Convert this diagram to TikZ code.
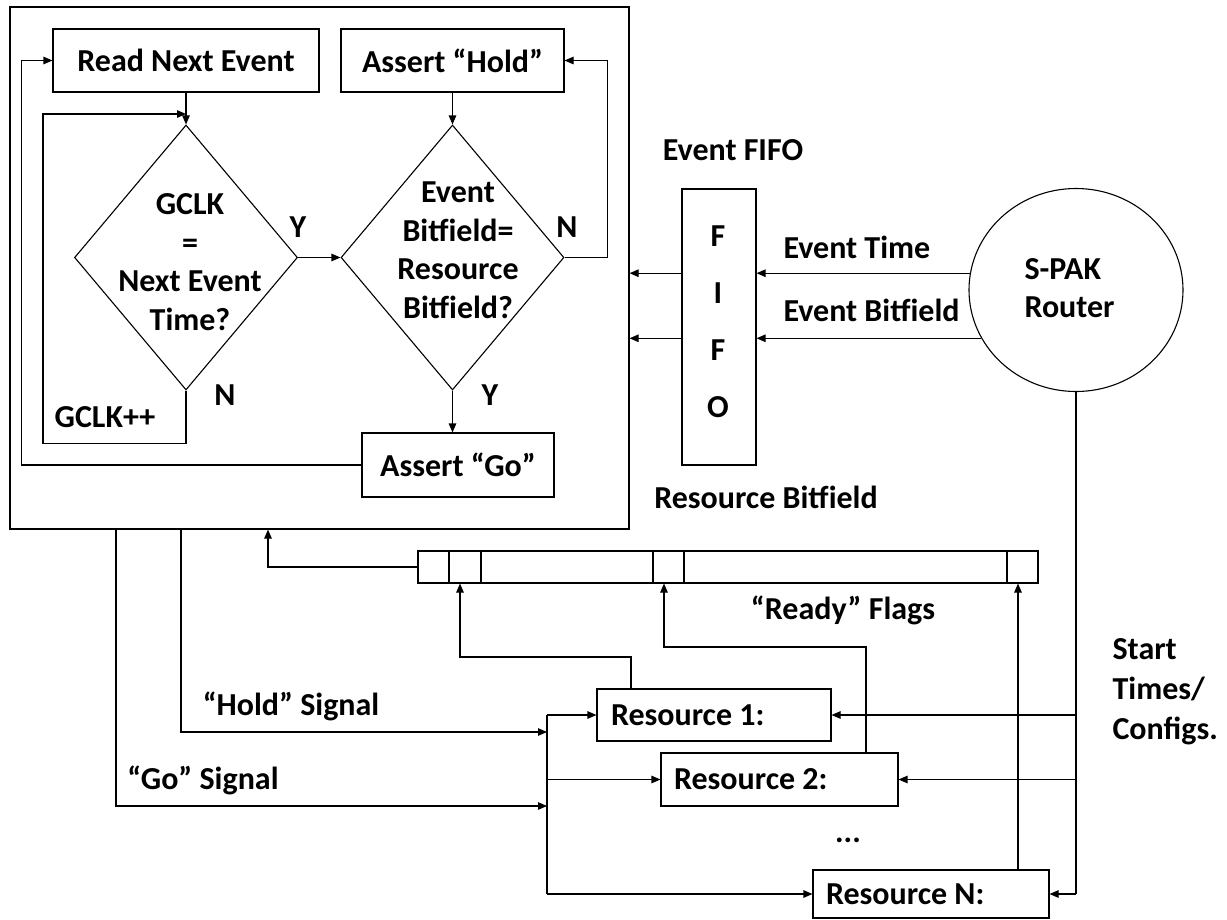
\documentclass[tikz,border=0pt]{standalone}
\usepackage{fontspec}
\setmainfont{Carlito}
\usetikzlibrary{arrows.meta,shapes.geometric,calc}
\begin{document}
\begin{tikzpicture}[x=1pt,y=-1pt,
  font=\fontsize{32}{38.5}\selectfont\bfseries,
  line width=1.1pt,
  box/.style={draw, rectangle, inner sep=0pt, align=center},
  lbl/.style={inner sep=0pt, align=center},
  dia/.style={draw, diamond, inner sep=0pt, minimum width=223pt, minimum height=265pt},
  arr/.style={-{Triangle[length=9pt,width=7.5pt]}},
]
\useasboundingbox (0,0) rectangle (1227,919);

% main controller frame
\node[box, minimum width=619pt, minimum height=522pt] (main) at (319.5,268) {};
\node[box, minimum width=266pt, minimum height=63pt] (read) at (186,60.5) {Read Next Event};
\node[box, minimum width=223pt, minimum height=63pt] (hold) at (452.5,60.5) {Assert “Hold”};
\node[dia] (d1) at (186,257.5) {};
\node[lbl] (d1t) at (190,262) {GCLK\\=\\Next Event\\Time?};
\node[dia] (d2) at (452.5,257.5) {};
\node[lbl] (d2t) at (458,250) {Event\\Bitfield=\\Resource\\Bitfield?};
\node[box, minimum width=192pt, minimum height=64pt] (go) at (458,465) {Assert “Go”};

\node[lbl] (y1) at (298,227) {Y};
\node[lbl] (n2) at (567,227) {N};
\node[lbl] (n1) at (225,395) {N};
\node[lbl] (gclk) at (105,417) {GCLK++};
\node[lbl] (y2) at (490,395) {Y};

\draw[arr] (read.south) -- (d1.north);
\draw[arr] (hold.south) -- (d2.north);
\draw[arr] (d1.east) -- (d2.west);
\draw[arr] (d2.south) -- (d2.south |- go.north);
\draw[arr] (d2.east) -- ++(43,0) |- (hold.east);
\draw[arr] (d1.south) -- ++(0,53) -| (43,114) -- (d1.north |- 43,114);
\draw[arr] (go.west) -| ([xshift=-31pt]read.west) -- (read.west);

% FIFO and router
\node[lbl] (fifolbl) at (733,150) {Event FIFO};
\node[box, minimum width=74pt, minimum height=276pt] (fifo) at (719,327) {};
\node[lbl, font=\fontsize{32}{57}\selectfont\bfseries] (fifot) at (718,322) {F\\I\\F\\O};
\node[draw, ellipse, inner sep=0pt, minimum width=214pt, minimum height=203pt] (router) at (1076,290) {};
\node[lbl, align=left, anchor=west] (routert) at (1024,288) {S-PAK\\Router};

\draw[arr] (router.171.4) -- (router.171.4 -| fifo.east);
\draw[arr] (router.207) -- (router.207 -| fifo.east);
\draw[arr] (fifo.west |- router.171.4) -- (main.east |- router.171.4);
\draw[arr] (fifo.west |- router.207) -- (main.east |- router.207);
\node[lbl, anchor=west] (etime) at (783,247) {Event Time};
\node[lbl, anchor=west] (ebit) at (783,310) {Event Bitfield};

% resource bitfield
\node[lbl] (rblbl) at (766,497) {Resource Bitfield};
\node[box, minimum width=620pt, minimum height=32pt] (bar) at (728,567) {};
\foreach \xx in {449,481,653,684,1007}
  \draw (\xx,0 |- bar.north) -- (\xx,0 |- bar.south);
\draw[arr] (bar.west) -| (268,0 |- main.south);
\node[lbl] (ready) at (843,610) {“Ready” Flags};

% resources
\node[box, minimum width=234pt, minimum height=52pt] (r1) at (714,715) {};
\node[lbl, anchor=west] (r1t) at ([xshift=14pt]r1.west) {Resource 1:};
\node[box, minimum width=237pt, minimum height=53pt] (r2) at (779.5,779.5) {};
\node[lbl, anchor=west] (r2t) at ([xshift=13pt]r2.west) {Resource 2:};
\node[box, minimum width=236pt, minimum height=48pt] (rn) at (931,894) {};
\node[lbl, anchor=west] (rnt) at ([xshift=13pt]rn.west) {Resource N:};
\node[lbl] (dots) at (848,840) {...};

\draw[arr] (631,0 |- r1.north) |- (460,657) -- (460,0 |- bar.south);
\draw[arr] (866,0 |- r2.north) |- (664,647) -- (664,0 |- bar.south);
\draw[arr] (1018,0 |- rn.north) -- (1018,0 |- bar.south);

% hold / go signals
\coordinate (busx) at (547,0);
\draw (busx |- r1.west) -- (busx |- rn.west);
\draw[arr] (busx |- r1.west) -- (r1.west);
\draw[arr] (busx |- r2.west) -- (r2.west);
\draw[arr] (busx |- rn.west) -- (rn.west);
\draw[arr] (181,0 |- main.south) |- (busx |- 0,732);
\draw[arr] (116,0 |- main.south) |- (busx |- 0,806);
\node[lbl] (holdsig) at (291,706) {“Hold” Signal};
\node[lbl] (gosig) at (203,780) {“Go” Signal};

% router configs
\coordinate (rx) at (1076,0);
\draw (router.south) -- (rx |- rn.east);
\draw[arr] (rx |- r1.east) -- (r1.east);
\draw[arr] (rx |- r2.east) -- (r2.east);
\draw[arr] (rx |- rn.east) -- (rn.east);
\node[lbl, align=left, anchor=west, font=\fontsize{32}{40}\selectfont\bfseries] (cfg) at (1112,692) {Start\\Times/\\Configs.};
\end{tikzpicture}
\end{document}
